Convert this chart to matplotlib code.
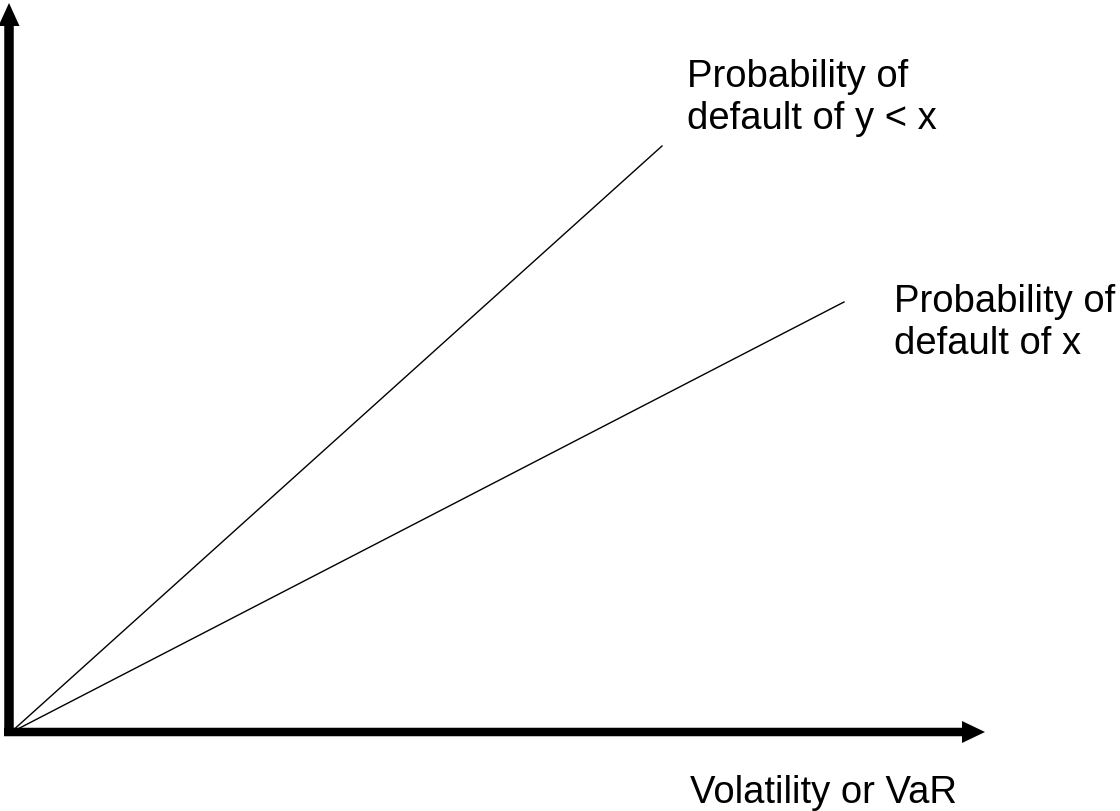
import matplotlib.pyplot as plt

# endpoints of the two lines, measured from the origin (arbitrary units)
line_x = [0, 652, 834]
line_y_steep = [0, 587]
line_y_flat = [0, 431]

labels = ["Probability of\ndefault of y < x", "Probability of\ndefault of x"]
xlabel = "Volatility or VaR"

plt.rcParams['font.family'] = ['Liberation Sans', 'DejaVu Sans']

fig = plt.figure(figsize=(11.2, 8.11), dpi=100)
ax = fig.add_axes([0, 0, 1, 1])
ax.set_xlim(-10, 1110)
ax.set_ylim(-78, 733)
ax.axis('off')

# axes with arrow heads
ax.arrow(-6, 1, 981, 0, width=8.5, head_width=22, head_length=23,
         length_includes_head=True, color='black', lw=0)
ax.arrow(-1, -3, 0, 733, width=9.5, head_width=21, head_length=23,
         length_includes_head=True, color='black', lw=0)

ax.plot(line_x[:2], line_y_steep, color='black', lw=1)
ax.plot([line_x[0], line_x[2]], line_y_flat, color='black', lw=1)

# va='baseline' lines up the last line of a two-line label
ax.text(677, 604, labels[0], fontsize=27.5, va='baseline', ha='left', linespacing=1.2)
ax.text(884, 379, labels[1], fontsize=27.5, va='baseline', ha='left', linespacing=1.2)
ax.text(680, -70, xlabel, fontsize=27.5, va='baseline', ha='left')

fig.savefig('out.png', dpi=100)
